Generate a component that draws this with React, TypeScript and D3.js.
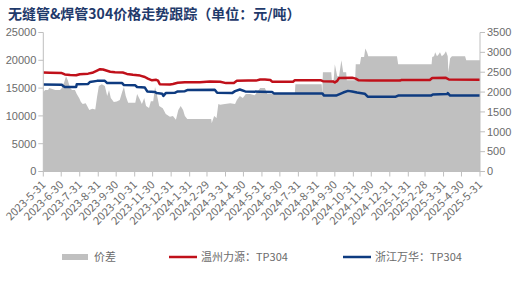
import React from 'react';
import * as d3 from 'd3';

const title = '无缝管&焊管304价格走势跟踪（单位：元/吨）';
const tickLabels = [
  '2023-5-31', '2023-6-30', '2023-7-31', '2023-8-31', '2023-9-30', '2023-10-31', '2023-11-30', '2023-12-31',
  '2024-1-31', '2024-2-29', '2024-3-31', '2024-4-30', '2024-5-31', '2024-6-30', '2024-7-31', '2024-8-31',
  '2024-9-30', '2024-10-31', '2024-11-30', '2024-12-31', '2025-1-31', '2025-2-28', '2025-3-31', '2025-4-30', '2025-5-31',
];
const leftTicks = [0, 5000, 10000, 15000, 20000, 25000];
const rightTicks = [0, 500, 1000, 1500, 2000, 2500, 3000, 3500];
const seriesNames = ['价差', '温州力源：TP304', '浙江万华：TP304'];

// day offsets from 2023-5-31
const spreadDays = [0, 3, 8, 10, 15, 20, 28, 31, 35, 38, 41, 45, 48, 53, 56, 60, 63, 66, 71, 77, 82, 87, 90, 93, 98, 103, 107, 110, 113, 118, 123, 128, 132, 135, 138, 142, 154, 157, 162, 165, 169, 172, 177, 180, 184, 187, 190, 194, 200, 205, 212, 217, 222, 226, 230, 234, 237, 241, 281, 282, 286, 290, 293, 296, 304, 313, 321, 324, 329, 334, 339, 346, 354, 358, 363, 371, 375, 421, 422, 466, 467, 468, 482, 483, 486, 488, 492, 495, 499, 502, 507, 508, 522, 523, 530, 532, 537, 539, 542, 544, 592, 594, 650, 651, 654, 656, 659, 662, 664, 667, 671, 674, 677, 678, 681, 684, 706, 708, 731];
const spreadValues = [2000, 2050, 2050, 2100, 2080, 2050, 2050, 2100, 2250, 2400, 2300, 2100, 2050, 2050, 1950, 1850, 1750, 1700, 1720, 1550, 1580, 1560, 1880, 2150, 2200, 2150, 1900, 2050, 1850, 1750, 1760, 1800, 2000, 2130, 1900, 1730, 1730, 1950, 1800, 1700, 1850, 1650, 1600, 1770, 1770, 2130, 1950, 1650, 1590, 1450, 1380, 1400, 1300, 1550, 1650, 1550, 1400, 1320, 1320, 1220, 1400, 1350, 1700, 1680, 1700, 1720, 1700, 1800, 1900, 1850, 1950, 1950, 1920, 2000, 2100, 2100, 1950, 1950, 2200, 2200, 1950, 2500, 2500, 2300, 2300, 2700, 2400, 2400, 2800, 2500, 2500, 2300, 2300, 2700, 2700, 2880, 2880, 3100, 3000, 2900, 2900, 2700, 2700, 2880, 2900, 3000, 2900, 2950, 3000, 2900, 2950, 3030, 2900, 2500, 2850, 2900, 2900, 2800, 2800];

const wzDays = [0, 11, 31, 36, 45, 55, 58, 61, 75, 82, 90, 95, 100, 112, 120, 133, 140, 150, 162, 170, 175, 182, 189, 192, 195, 212, 217, 225, 237, 262, 279, 296, 306, 319, 324, 343, 356, 363, 371, 380, 383, 418, 421, 465, 468, 485, 488, 492, 495, 517, 523, 528, 547, 597, 599, 647, 651, 674, 679, 731];
const wzValues = [17800, 17750, 17700, 17450, 17350, 17300, 17400, 17500, 17600, 17750, 18150, 18400, 18350, 17950, 17850, 17800, 17550, 17400, 17250, 17000, 16700, 16400, 16500, 16350, 15700, 15650, 15750, 15950, 16050, 16050, 16200, 16150, 15900, 15900, 16300, 16350, 16350, 16550, 16550, 16450, 16150, 16150, 16400, 16400, 16250, 16200, 16000, 16300, 16800, 16850, 16700, 16400, 16350, 16350, 16450, 16450, 16800, 16850, 16550, 16500];

const zjDays = [0, 31, 33, 36, 55, 56, 75, 78, 90, 103, 107, 132, 135, 154, 157, 170, 174, 187, 190, 199, 201, 205, 220, 225, 237, 241, 287, 291, 316, 321, 329, 338, 363, 383, 386, 467, 470, 490, 502, 510, 517, 525, 538, 543, 590, 594, 649, 652, 676, 677, 681, 731];
const zjValues = [15650, 15600, 15400, 15200, 15200, 15700, 15750, 16100, 16300, 16300, 15900, 15900, 15550, 15500, 15200, 15100, 14400, 14300, 14100, 14000, 13600, 14100, 14150, 14400, 14450, 14650, 14700, 14150, 14100, 14450, 14750, 14400, 14350, 14300, 14050, 14050, 13650, 13650, 14200, 14500, 14400, 14200, 14000, 13450, 13450, 13650, 13650, 13850, 13950, 14100, 13650, 13650];

const parseLabel = (s: string) => {
  const [y, m, d] = s.split('-').map(Number);
  return new Date(y, m - 1, d);
};

export default function App() {
  const W = 521, H = 283;
  const left = 43.3, right = 480, top = 32.5, bottom = 171.5;
  const base = parseLabel(tickLabels[0]);
  const x = d3.scaleTime().domain([base, parseLabel(tickLabels[tickLabels.length - 1])]).range([left, right]);
  const yL = d3.scaleLinear().domain([0, 25000]).range([bottom, top]);
  const yR = d3.scaleLinear().domain([0, 3500]).range([bottom, top]);
  const dayX = (d: number) => x(d3.timeDay.offset(base, d));

  const area = d3.area<number>()
    .x((_, i) => dayX(spreadDays[i]))
    .y0(yR(0))
    .y1((v) => yR(v));
  const lineWz = d3.line<number>().x((_, i) => dayX(wzDays[i])).y((v) => yL(v));
  const lineZj = d3.line<number>().x((_, i) => dayX(zjDays[i])).y((v) => yL(v));

  const axisColor = '#BFBFBF';
  const textColor = '#6B6B6B';
  const font = '"Liberation Sans", Arial, sans-serif';
  const cjk = '"Noto Sans CJK SC", "Noto Sans", sans-serif';
  const red = '#C0101A';
  const blue = '#0E3B80';
  const grey = '#C0C0C0';

  return (
    <svg width={W} height={H} style={{ position: 'absolute', left: 0, top: 0, background: '#fff' }}>
      <text x={8} y={19} fontFamily={cjk} fontWeight={700} fontSize={14} fill="#1F3A6B">{title}</text>
      <path d={area(spreadValues) || ''} fill={grey} />
      <path d={lineWz(wzValues) || ''} fill="none" stroke={red} strokeWidth={2.5} strokeLinejoin="round" />
      <path d={lineZj(zjValues) || ''} fill="none" stroke={blue} strokeWidth={2.5} strokeLinejoin="round" />
      {/* left axis */}
      <line x1={left} x2={left} y1={top} y2={bottom} stroke={axisColor} />
      {leftTicks.map((t) => (
        <g key={'l' + t}>
          <line x1={left - 5} x2={left} y1={yL(t)} y2={yL(t)} stroke={axisColor} />
          <text x={left - 7} y={yL(t)} dy="0.35em" textAnchor="end" fontFamily={font} fontSize={11} fill={textColor}>{t}</text>
        </g>
      ))}
      {/* right axis */}
      <line x1={right} x2={right} y1={top} y2={bottom} stroke={axisColor} />
      {rightTicks.map((t) => (
        <g key={'r' + t}>
          <line x1={right} x2={right + 5} y1={yR(t)} y2={yR(t)} stroke={axisColor} />
          <text x={right + 7} y={yR(t)} dy="0.35em" textAnchor="start" fontFamily={font} fontSize={11} fill={textColor}>{t}</text>
        </g>
      ))}
      {/* bottom axis */}
      <line x1={left} x2={right} y1={bottom} y2={bottom} stroke={axisColor} />
      {tickLabels.map((s) => {
        const tx = x(parseLabel(s));
        return (
          <g key={s}>
            <line x1={tx} x2={tx} y1={bottom} y2={bottom + 5} stroke={axisColor} />
            <text transform={`translate(${tx + 3},${bottom + 14}) rotate(-45)`} textAnchor="end" fontFamily={cjk} fontSize={11} fill={textColor}>{s}</text>
          </g>
        );
      })}
      {/* legend */}
      <rect x={62} y={254} width={26} height={6} fill={grey} />
      <text x={94} y={257} dy="0.35em" fontFamily={cjk} fontSize={11} fill={textColor}>{seriesNames[0]}</text>
      <line x1={169} x2={197} y1={257} y2={257} stroke={red} strokeWidth={2.5} />
      <text x={201} y={257} dy="0.35em" fontFamily={cjk} fontSize={11} fill={textColor}>{seriesNames[1]}</text>
      <line x1={343} x2={371} y1={257} y2={257} stroke={blue} strokeWidth={2.5} />
      <text x={375} y={257} dy="0.35em" fontFamily={cjk} fontSize={11} fill={textColor}>{seriesNames[2]}</text>
    </svg>
  );
}
